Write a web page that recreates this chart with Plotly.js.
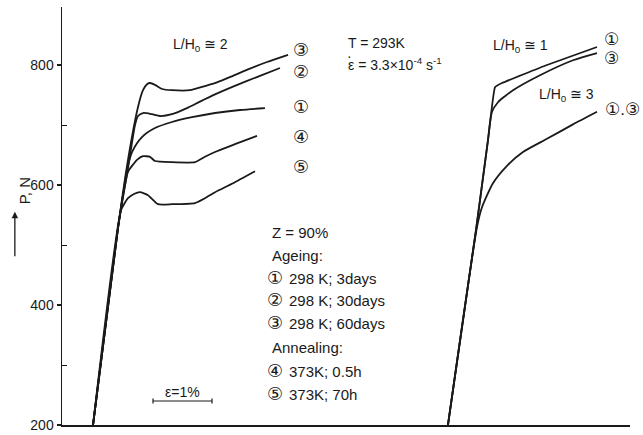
<!DOCTYPE html>
<html>
<head>
<meta charset="utf-8">
<script src="https://cdn.plot.ly/plotly-3.0.1.min.js"></script>
<style>html,body{margin:0;padding:0;background:#fff;}#chart{width:643px;height:435px;}</style>
</head>
<body>
<div id="chart"></div>
<script>
// strain (%) measured from the load axis, load P (N)
// L/H0 = 2 group
const strainA3 = [0.517, 0.933, 1.100, 1.267, 1.350, 1.417, 1.467, 1.550, 1.667, 1.833, 2.133, 2.383, 2.583, 2.850, 3.133, 3.417, 3.767];
const loadA3   = [200, 528, 642, 730, 758, 768, 770, 767, 760, 758, 758, 765, 771, 782, 794, 805, 817];
const strainA2 = [0.517, 0.933, 1.100, 1.217, 1.267, 1.350, 1.500, 1.633, 1.833, 2.100, 2.300, 2.550, 2.850, 3.300, 3.633];
const loadA2   = [200, 528, 628, 700, 715, 720, 718, 715, 718, 729, 739, 751, 764, 782, 795];
const strainA1 = [0.517, 0.933, 1.017, 1.083, 1.167, 1.333, 1.550, 1.833, 2.167, 2.550, 2.967, 3.383];
const loadA1   = [200, 528, 583, 625, 655, 680, 695, 705, 713, 720, 725, 728];
const strainA4 = [0.517, 0.933, 1.017, 1.100, 1.250, 1.350, 1.467, 1.550, 1.833, 2.217, 2.383, 2.550, 2.883, 3.250];
const loadA4   = [200, 528, 583, 622, 642, 648, 647, 640, 638, 638, 647, 655, 668, 682];
const strainA5 = [0.517, 0.983, 1.100, 1.200, 1.300, 1.433, 1.600, 1.833, 2.217, 2.383, 2.550, 2.850, 3.217];
const loadA5   = [200, 558, 578, 585, 588, 583, 568, 568, 570, 578, 588, 603, 623];
// L/H0 = 1 group
const strainB1 = [6.433, 6.900, 7.100, 7.217, 7.333, 8.083, 8.917];
const loadB1   = [200, 525, 675, 763, 770, 800, 830];
const strainB3 = [6.433, 6.900, 7.100, 7.167, 7.267, 7.383, 7.517, 7.967, 8.517, 8.917];
const loadB3   = [200, 525, 675, 722, 738, 748, 758, 783, 808, 820];
// L/H0 = 3 group
const strainC  = [6.433, 6.917, 7.000, 7.183, 7.417, 7.683, 8.083, 8.517, 8.917];
const loadC    = [200, 530, 563, 603, 632, 655, 677, 701, 722];

const yMajor = [200, 400, 600, 800];
const yMinor = [300, 500, 700];
const legendLines = ["Z = 90%", "Ageing:", "①|298 K; 3days", "②|298 K; 30days", "③|298 K; 60days", "Annealing:", "④|373K; 0.5h", "⑤|373K; 70h"];

const FONT = "Liberation Sans, DejaVu Sans, Noto Sans CJK SC, sans-serif";
const INK = "#1a1a1a";

function curve(x, y, smooth) {
  return {x: x, y: y, type: "scatter", mode: "lines", hoverinfo: "skip",
          line: {color: INK, width: 1.8, shape: "spline", smoothing: smooth}};
}
const data = [
  curve(strainA3, loadA3, 0.6), curve(strainA2, loadA2, 0.6), curve(strainA1, loadA1, 0.8),
  curve(strainA4, loadA4, 0.5), curve(strainA5, loadA5, 0.5),
  curve(strainB1, loadB1, 0.3), curve(strainB3, loadB3, 0.7), curve(strainC, loadC, 0.6)
];

// pixel helpers for annotation placement (plot area: x 62..630, y 7..425)
const px2x = p => (p - 62) / 60;
const py2y = p => 200 + (425 - p) / 0.6;

function txt(text, px, py, size, anchor) {
  return {x: px2x(px), y: py2y(py), xref: "x", yref: "y", text: text, showarrow: false,
          xanchor: anchor || "left", yanchor: "middle", font: {family: FONT, size: size, color: INK}};
}
const legendY = [232, 255, 278, 300, 323, 347, 371, 394];
const annotations = [
  txt("L/H<sub>0</sub> ≅ 2", 171, 45, 14),
  txt("T = 293K", 346, 43, 14),
  txt("ε = 3.3×10<sup>-4</sup> s<sup>-1</sup>", 346, 64, 14),
  txt("·", 350, 56, 14, "center"),
  txt("L/H<sub>0</sub> ≅ 1", 491, 46, 14),
  txt("L/H<sub>0</sub> ≅ 3", 537, 95, 14),
  txt("①", 612, 39, 17, "center"),
  txt("③", 612, 58, 17, "center"),
  txt("①.③", 603, 109, 17),
  txt("③", 301, 50, 18, "center"),
  txt("②", 301, 72, 18, "center"),
  txt("①", 301, 107, 18, "center"),
  txt("④", 301, 137, 18, "center"),
  txt("⑤", 301, 167, 18, "center"),
  txt("ε=1%", 182, 392, 14, "center"),
  {x: -0.083, y: 0.56, xref: "paper", yref: "paper", text: "P, N", textangle: -90, showarrow: false,
   font: {family: FONT, size: 15, color: INK}},
  {x: -0.083, y: 0.51, xref: "paper", yref: "paper", text: "", showarrow: true, ax: 0, ay: 46,
   arrowhead: 2, arrowsize: 1, arrowwidth: 1.3, arrowcolor: INK}
];
legendLines.forEach((t, i) => {
  const parts = t.split("|");
  if (parts.length === 2) {
    annotations.push(txt(parts[0], 275, legendY[i], 18, "center"));
    annotations.push(txt(parts[1], 287, legendY[i], 15));
  } else {
    annotations.push(txt(parts[0], 270, legendY[i], 15));
  }
});

const barY = py2y(401);
const shapes = [
  {type: "line", xref: "x", yref: "y", x0: px2x(153), x1: px2x(212), y0: barY, y1: barY, line: {color: INK, width: 1.2}},
  {type: "line", xref: "x", yref: "y", x0: px2x(153), x1: px2x(153), y0: barY - 4, y1: barY + 4, line: {color: INK, width: 1.2}},
  {type: "line", xref: "x", yref: "y", x0: px2x(212), x1: px2x(212), y0: barY - 4, y1: barY + 4, line: {color: INK, width: 1.2}}
];

const layout = {
  width: 643, height: 435,
  margin: {l: 62, r: 13, t: 7, b: 10},
  paper_bgcolor: "#fff", plot_bgcolor: "#fff",
  showlegend: false,
  font: {family: FONT, color: INK},
  xaxis: {range: [0, 9.467], showline: true, linecolor: INK, linewidth: 1.5, showgrid: false,
          zeroline: false, ticks: "", showticklabels: false, fixedrange: true},
  yaxis: {range: [200, 896.7], showline: true, linecolor: INK, linewidth: 1.5, showgrid: false,
          zeroline: false, tickmode: "array", tickvals: yMajor, ticktext: yMajor.map(String),
          ticks: "outside", ticklen: 4, tickwidth: 1.2, tickcolor: INK,
          tickfont: {family: FONT, size: 14, color: INK},
          minor: {tickvals: yMinor, ticks: "inside", ticklen: 5, tickwidth: 1, tickcolor: INK},
          fixedrange: true},
  annotations: annotations,
  shapes: shapes
};
Plotly.newPlot("chart", data, layout, {displayModeBar: false, staticPlot: true});
</script>
</body>
</html>
